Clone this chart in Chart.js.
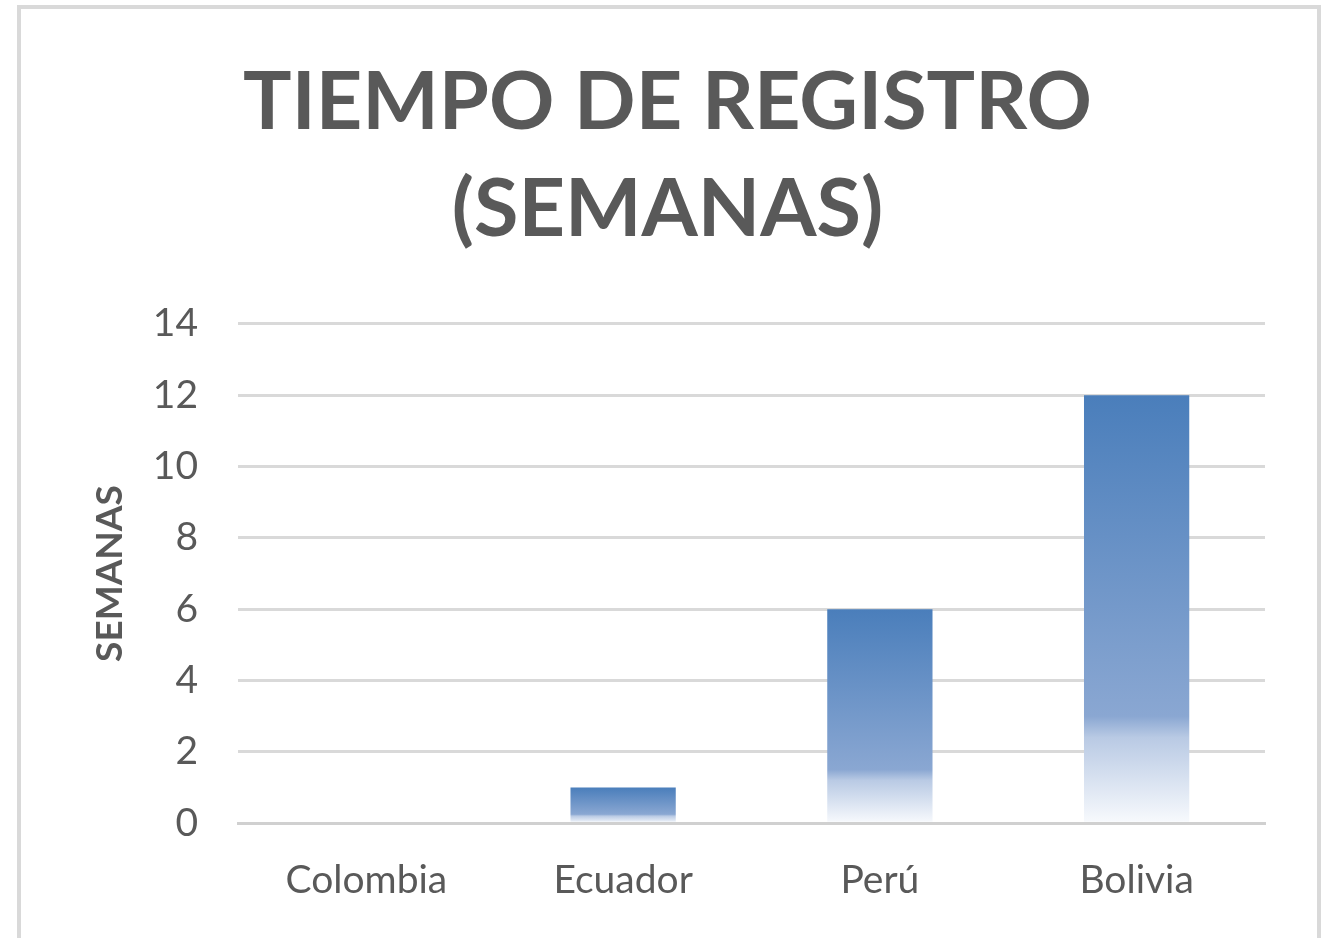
<!DOCTYPE html>
<html>
<head>
<meta charset="utf-8">
<script src="https://cdn.jsdelivr.net/npm/chart.js@4.4.1/dist/chart.umd.min.js"></script>
<style>
  html, body { margin: 0; padding: 0; background: #fff; }
  #frame {
    position: absolute; left: 17px; top: 5px;
    width: 1304px; height: 935px;
    border: 4px solid #d9d9d9; border-bottom: none;
    box-sizing: border-box;
  }
  #wrap { position: absolute; left: 0; top: 0; width: 1326px; height: 938px; }
</style>
</head>
<body>
<div id="frame"></div>
<div id="wrap"><canvas id="chart"></canvas></div>
<script>
'use strict';

var categories = ['Colombia', 'Ecuador', 'Perú', 'Bolivia'];
var semanas = [0, 1, 6, 12];
var titleLines = ['TIEMPO DE REGISTRO', '(SEMANAS)'];
var yTitle = 'SEMANAS';

var gray = '#595959';
var fontFamily = 'Lato, "Open Sans", sans-serif';

function barGradient(context){
  var chart = context.chart;
  var y = chart.scales && chart.scales.y;
  if(!y || !chart.chartArea || context.type !== 'data'){
    return 'rgb(74,126,187)';
  }
  var v = context.raw;
  var top = y.getPixelForValue(v);
  var base = y.getPixelForValue(0);
  if(base - top < 1){ return 'rgb(74,126,187)'; }
  var g = chart.ctx.createLinearGradient(0, top, 0, base);
  g.addColorStop(0, 'rgb(74,126,187)');
  g.addColorStop(0.75, 'rgb(138,167,210)');
  g.addColorStop(0.8, 'rgb(185,202,228)');
  g.addColorStop(1, 'rgb(248,250,253)');
  return g;
}

var ctx = document.getElementById('chart');
var chart = new Chart(ctx, {
  type: 'bar',
  data: {
    labels: categories,
    datasets: [{
      label: yTitle,
      data: semanas,
      backgroundColor: barGradient,
      borderWidth: 0,
      categoryPercentage: 1,
      barPercentage: 0.41
    }]
  },
  options: {
    responsive: true,
    maintainAspectRatio: false,
    animation: false,
    layout: { padding: { left: 70, right: 61, top: 49, bottom: 0 } },
    plugins: {
      legend: { display: false },
      tooltip: { enabled: false },
      title: {
        display: true,
        text: titleLines,
        color: gray,
        font: { family: fontFamily, size: 81, weight: 'bold', lineHeight: 1.32 },
        padding: { top: 0, bottom: 61 }
      }
    },
    scales: {
      x: {
        grid: { display: false, drawTicks: false },
        border: { display: true, color: '#d0d0d0', width: 3 },
        ticks: { color: gray, font: { family: fontFamily, size: 39 }, padding: 34 }
      },
      y: {
        min: 0,
        max: 14,
        afterFit: function(scale){ scale.width = 168; },
        ticks: { stepSize: 2, color: gray, font: { family: fontFamily, size: 39 }, padding: 40 },
        grid: {
          drawTicks: false,
          color: function(c){ return c.tick.value === 0 ? 'rgba(0,0,0,0)' : '#d9d9d9'; },
          lineWidth: 3
        },
        border: { display: false },
        title: {
          display: true,
          text: yTitle,
          color: gray,
          font: { family: fontFamily, size: 37, weight: 'bold' },
          padding: { top: 18, bottom: 0 }
        }
      }
    }
  }
});
</script>
</body>
</html>
